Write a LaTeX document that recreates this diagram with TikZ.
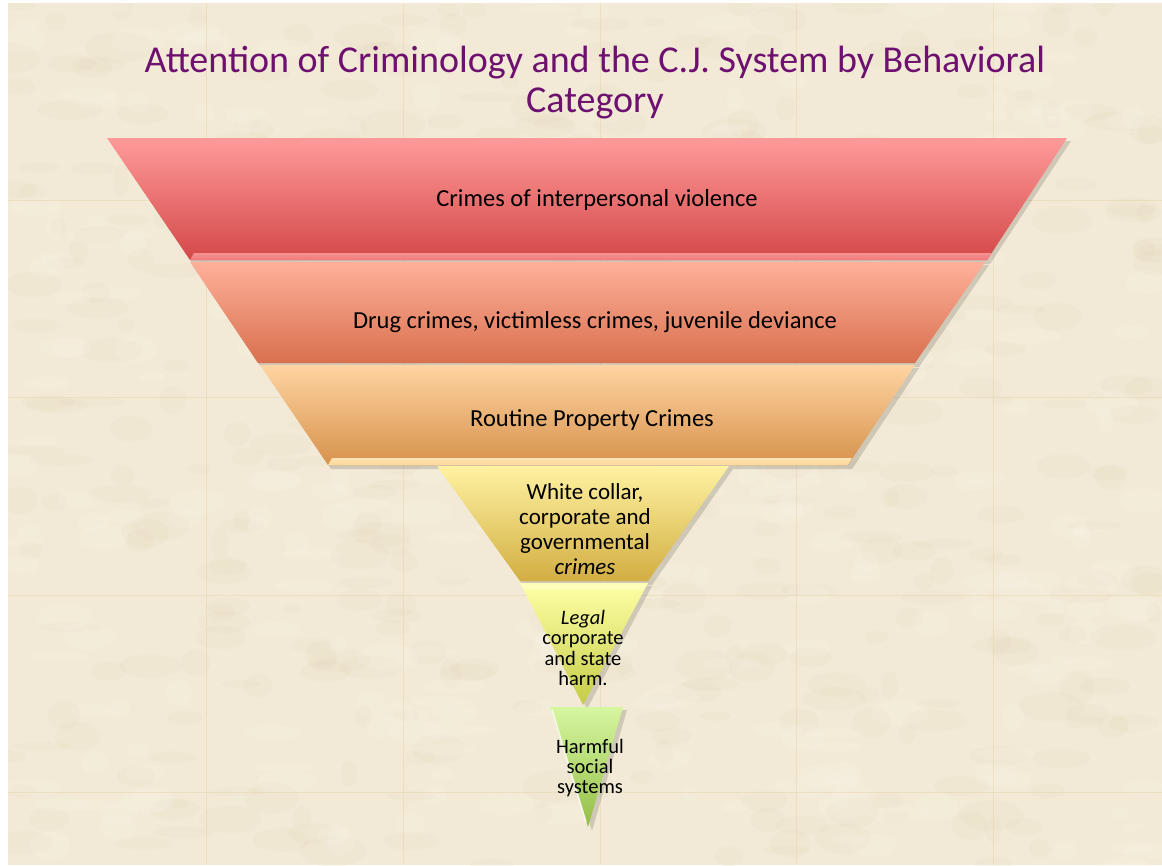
\documentclass[tikz,border=0pt]{standalone}
\usepackage{fontspec}
\setmainfont{Carlito}
\usetikzlibrary{calc}
\definecolor{parch}{HTML}{F2EAD6}
\definecolor{parchdark}{HTML}{DDD0B4}
\definecolor{parchlight}{HTML}{FBF7EC}
\definecolor{seam}{HTML}{E6D2A6}
\definecolor{titlepurple}{HTML}{6E106F}
\definecolor{aTop}{HTML}{FF9A9A}\definecolor{aBot}{HTML}{D44848}\definecolor{aStrip}{HTML}{F27878}
\definecolor{bTop}{HTML}{FFB09A}\definecolor{bBot}{HTML}{D8704E}\definecolor{bStrip}{HTML}{F59A80}
\definecolor{cTop}{HTML}{FFD4A2}\definecolor{cBot}{HTML}{D6924C}\definecolor{cStrip}{HTML}{FFD896}
\definecolor{dTop}{HTML}{FFF2A2}\definecolor{dBot}{HTML}{D2AE42}\definecolor{dStrip}{HTML}{F6E08A}
\definecolor{eTop}{HTML}{FFFFA6}\definecolor{eBot}{HTML}{C4CC46}
\definecolor{fTop}{HTML}{D6F6A0}\definecolor{fBot}{HTML}{94BE46}
\tikzset{
  layertext/.style={font=\fontsize{24.5}{28}\selectfont, text=black, inner sep=0pt},
  smalltext/.style={font=\fontsize{23}{25}\selectfont, text=black, align=center, inner sep=0pt},
  tinytext/.style={font=\fontsize{20.5}{20.3}\selectfont, text=black, align=center, inner sep=0pt},
  titletext/.style={font=\fontsize{38}{40}\selectfont, text=titlepurple, align=center, inner sep=0pt},
  shadowfill/.style={fill=black, opacity=0.14},
  seamline/.style={draw=seam, line width=0.6pt, opacity=0.45}
}
\begin{document}
\begin{tikzpicture}[x=1pt,y=-1pt]
\useasboundingbox (0,0) rectangle (1162,865);
\fill[white] (0,0) rectangle (1162,865);
\fill[parch] (8,3) rectangle (1162,865);
% mottled texture
\pgfmathsetseed{11}
\begin{scope}
\clip (8,3) rectangle (1162,865);
\foreach \i in {1,...,420}{
  \pgfmathsetmacro{\px}{8+rnd*1154}
  \pgfmathsetmacro{\py}{3+rnd*862}
  \pgfmathsetmacro{\rx}{8+rnd*26}
  \pgfmathsetmacro{\ry}{4+rnd*12}
  \fill[parchdark, opacity=0.10] (\px,\py) ellipse [x radius=\rx, y radius=\ry];
}
\foreach \i in {1,...,320}{
  \pgfmathsetmacro{\px}{8+rnd*1154}
  \pgfmathsetmacro{\py}{3+rnd*862}
  \pgfmathsetmacro{\rx}{8+rnd*24}
  \pgfmathsetmacro{\ry}{4+rnd*10}
  \fill[parchlight, opacity=0.18] (\px,\py) ellipse [x radius=\rx, y radius=\ry];
}
\foreach \x in {206,403,600,796,993}{ \draw[seamline] (\x,3) -- (\x,865); }
\foreach \y in {200,397,595,792}{ \draw[seamline] (8,\y) -- (1162,\y); }
\end{scope}

% shadows
\fill[shadowfill] (110,141) -- (1071,141) -- (990,264) -- (193,264) -- cycle;
\fill[shadowfill] (193,265) -- (989,265) -- (919,367) -- (261,367) -- cycle;
\fill[shadowfill] (263,368) -- (919,368) -- (852,469) -- (331,469) -- cycle;
\fill[shadowfill] (440,469) -- (733,469) -- (652,585) -- (523,585) -- cycle;
\fill[shadowfill] (523,586) -- (652,586) -- (587,709) -- cycle;
\fill[shadowfill] (553,710) -- (627,710) -- (592,831) -- cycle;

% layer 1
\shade[top color=aTop, bottom color=aBot] (107,138) -- (1067,138) -- (987,260) -- (190,260) -- cycle;
\shade[top color=aStrip!80!white, bottom color=aStrip] (194,253) -- (992,253) -- (987,260) -- (190,260) -- cycle;
% layer 2
\shade[top color=bTop, bottom color=bBot] (190,262) -- (985,262) -- (915,363) -- (258,363) -- cycle;
% layer 3
\shade[top color=cTop, bottom color=cBot] (260,365) -- (915,365) -- (848,465) -- (328,465) -- cycle;
\shade[top color=cStrip!70!white, bottom color=cStrip] (332,458) -- (852,458) -- (848,465) -- (328,465) -- cycle;
% layer 4
\shade[top color=dTop, bottom color=dBot] (437,466) -- (729,466) -- (648,581) -- (520,581) -- cycle;
% layer 5
\shade[top color=eTop, bottom color=eBot] (520,583) -- (648,583) -- (583,705) -- cycle;
\fill[white, opacity=0.25] (520,583) -- (648,583) -- (644,590) -- (524,590) -- cycle;
% layer 6
\shade[top color=fTop, bottom color=fBot] (550,707) -- (623,707) -- (588,827) -- cycle;
\draw[white, line width=1.5pt, opacity=0.8] (552,710) -- (586,822);

% texts
\node[titletext] (title) at (595,83) {Attention of Criminology and the C.J. System by Behavioral\\Category};
\node[layertext] (t1) at (597,200) {Crimes of interpersonal violence};
\node[layertext] (t2) at (595,322) {Drug crimes, victimless crimes, juvenile deviance};
\node[layertext] (t3) at (592,420) {Routine Property Crimes};
\node[smalltext] (t4) at (585,529) {White collar,\\corporate and\\governmental\\\textit{crimes}};
\node[tinytext] (t5) at (583,648) {\textit{Legal}\\corporate\\and state\\harm.};
\node[tinytext] (t6) at (590,768) {Harmful\\social\\systems};
\end{tikzpicture}
\end{document}
